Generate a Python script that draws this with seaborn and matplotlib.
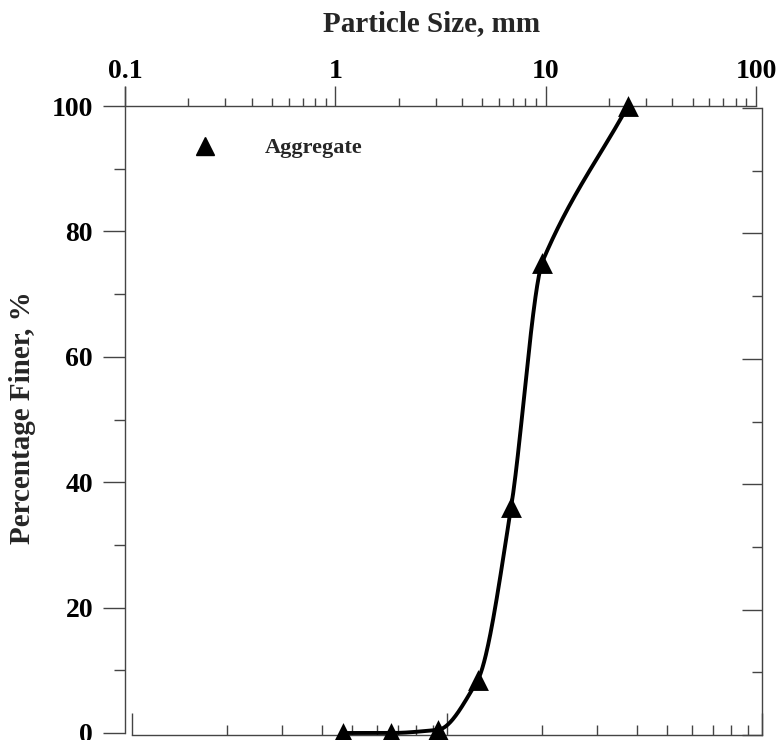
import numpy as np
import pandas as pd
import matplotlib
matplotlib.use("Agg")
import matplotlib.pyplot as plt
import seaborn as sns
from matplotlib.ticker import FixedLocator, NullFormatter, FixedFormatter
from matplotlib.lines import Line2D

# ---- data ----
particle_size_mm = [1.09, 1.84, 3.08, 4.77, 6.85, 9.6, 24.6]
percent_finer = [0.0, 0.0, 0.5, 8.5, 36.0, 75.0, 100.0]
series_label = "Aggregate"
x_tick_values = [0.1, 1, 10, 100]
x_tick_labels = ["0.1", "1", "10", "100"]
y_tick_values = [0, 20, 40, 60, 80, 100]
y_tick_labels = ["0", "20", "40", "60", "80", "100"]

sns.set_theme(style="white")
plt.rcParams["font.family"] = ["Liberation Serif", "DejaVu Serif"]
plt.rcParams["font.weight"] = "bold"

df = pd.DataFrame({"size": particle_size_mm, "finer": percent_finer})


def smooth_curve(x, y, xn, cap=1.3):
    """Monotone cubic Hermite (PCHIP tangents, limited per segment)."""
    x = np.asarray(x, float)
    y = np.asarray(y, float)
    h = np.diff(x)
    d = np.diff(y) / h
    n = len(x)
    m = np.zeros(n)
    for k in range(1, n - 1):
        if d[k - 1] * d[k] > 0:
            w1 = 2 * h[k] + h[k - 1]
            w2 = h[k] + 2 * h[k - 1]
            m[k] = (w1 + w2) / (w1 / d[k - 1] + w2 / d[k])
    m[0] = d[0]
    m[-1] = d[-1]
    m0 = np.minimum(m[:-1], cap * d)
    m1 = np.minimum(m[1:], cap * d)
    idx = np.clip(np.searchsorted(x, xn) - 1, 0, n - 2)
    t = (xn - x[idx]) / h[idx]
    h00 = 2 * t**3 - 3 * t**2 + 1
    h10 = t**3 - 2 * t**2 + t
    h01 = -2 * t**3 + 3 * t**2
    h11 = t**3 - t**2
    return h00 * y[idx] + h10 * h[idx] * m0[idx] + h01 * y[idx + 1] + h11 * h[idx] * m1[idx]


lx = np.log10(df["size"].values)
lxn = np.linspace(lx[0], lx[-1], 500)
curve = pd.DataFrame({"size": 10 ** lxn, "finer": smooth_curve(lx, df["finer"].values, lxn)})

fig = plt.figure(figsize=(7.77, 7.40), dpi=100)
fig.patch.set_facecolor("white")

W, H = 777.0, 740.0
spine_col = "#444444"

# secondary frame (bottom + right axes as in the original)
ax2 = fig.add_axes([132 / W, (H - 735) / H, 630 / W, 627 / H])
ax2.set_xscale("log")
ax2.set_xlim(1, 100)
ax2.set_ylim(0, 100)
ax2.patch.set_visible(False)
for s in ["top", "left"]:
    ax2.spines[s].set_visible(False)
for s in ["bottom", "right"]:
    ax2.spines[s].set_color(spine_col)
    ax2.spines[s].set_linewidth(1.0)
ax2.xaxis.set_major_locator(FixedLocator([1, 10, 100]))
ax2.xaxis.set_minor_locator(FixedLocator([2, 3, 4, 5, 6, 7, 8, 9, 20, 30, 40, 50, 60, 70, 80, 90]))
ax2.yaxis.set_major_locator(FixedLocator([0, 20, 40, 60, 80, 100]))
ax2.yaxis.set_minor_locator(FixedLocator([10, 30, 50, 70, 90]))
ax2.xaxis.set_major_formatter(NullFormatter())
ax2.xaxis.set_minor_formatter(NullFormatter())
ax2.yaxis.set_major_formatter(NullFormatter())
ax2.yaxis.tick_right()
ax2.tick_params(axis="x", which="major", direction="in", length=15.5, width=1.0, color=spine_col,
                bottom=True, top=False)
ax2.tick_params(axis="x", which="minor", direction="in", length=7.5, width=1.0, color=spine_col,
                bottom=True, top=False)
ax2.tick_params(axis="y", which="major", direction="in", length=14.5, width=1.0, color=spine_col,
                right=True, left=False, labelright=False)
ax2.tick_params(axis="y", which="minor", direction="in", length=7.5, width=1.0, color=spine_col,
                right=True, left=False)

# main axes
ax = fig.add_axes([125 / W, (H - 733) / H, 631 / W, 627 / H])
ax.patch.set_visible(False)
ax.set_xscale("log")

sns.lineplot(data=curve, x="size", y="finer", ax=ax, color="black", linewidth=2.8,
             sort=False, estimator=None, clip_on=False, legend=False)
sns.scatterplot(data=df, x="size", y="finer", ax=ax, marker="^", s=15 ** 2, color="black",
                edgecolor="black", linewidth=0, clip_on=False, zorder=5, legend=False)

ax.set_xlim(0.1, 100)
ax.set_ylim(0, 100)
ax.set_xlabel("")
ax.set_ylabel("")

ax.spines["bottom"].set_visible(False)
ax.spines["right"].set_visible(False)
for s in ["top", "left"]:
    ax.spines[s].set_color(spine_col)
    ax.spines[s].set_linewidth(1.0)
ax.spines["left"].set_bounds(0, 103)

ax.xaxis.tick_top()
ax.xaxis.set_major_locator(FixedLocator(x_tick_values))
ax.xaxis.set_major_formatter(FixedFormatter(x_tick_labels))
minors = [m * 10.0 ** e for e in (-1, 0, 1) for m in range(2, 10)]
ax.xaxis.set_minor_locator(FixedLocator(minors))
ax.xaxis.set_minor_formatter(NullFormatter())
ax.tick_params(axis="x", which="major", direction="out", length=14.5, width=1.0, color=spine_col,
               top=True, bottom=False, labeltop=True, labelbottom=False, pad=1.5,
               labelsize=20, labelcolor="black")
ax.tick_params(axis="x", which="minor", direction="out", length=6, width=1.0, color=spine_col,
               top=True, bottom=False)

ax.yaxis.set_major_locator(FixedLocator(y_tick_values))
ax.yaxis.set_major_formatter(FixedFormatter(y_tick_labels))
ax.yaxis.set_minor_locator(FixedLocator([10, 30, 50, 70, 90]))
ax.tick_params(axis="y", which="major", direction="out", length=16, width=1.0, color=spine_col,
               left=True, right=False, pad=7, labelsize=20, labelcolor="black")
ax.tick_params(axis="y", which="minor", direction="out", length=8, width=1.0, color=spine_col,
               left=True, right=False)
for lab in ax.get_xticklabels() + ax.get_yticklabels():
    lab.set_fontweight("bold")

fig.text(432 / W, 1 - 24 / H, "Particle Size, mm", ha="center", va="center",
         fontsize=21, fontweight="bold")
fig.text(23 / W, 1 - 418 / H, "Percentage Finer, %", ha="center", va="center",
         rotation=90, fontsize=21, fontweight="bold")

handle = Line2D([], [], linestyle="none", marker="^", markersize=13, color="black")
leg = ax.legend([handle], [series_label], loc="center left",
                bbox_to_anchor=((194 - 125) / 631, (733 - 148) / 627),
                frameon=False, handlelength=1.0, handletextpad=2.2, borderpad=0,
                borderaxespad=0, prop={"size": 16, "weight": "bold"})

fig.savefig("out.png", dpi=100, facecolor="white")
